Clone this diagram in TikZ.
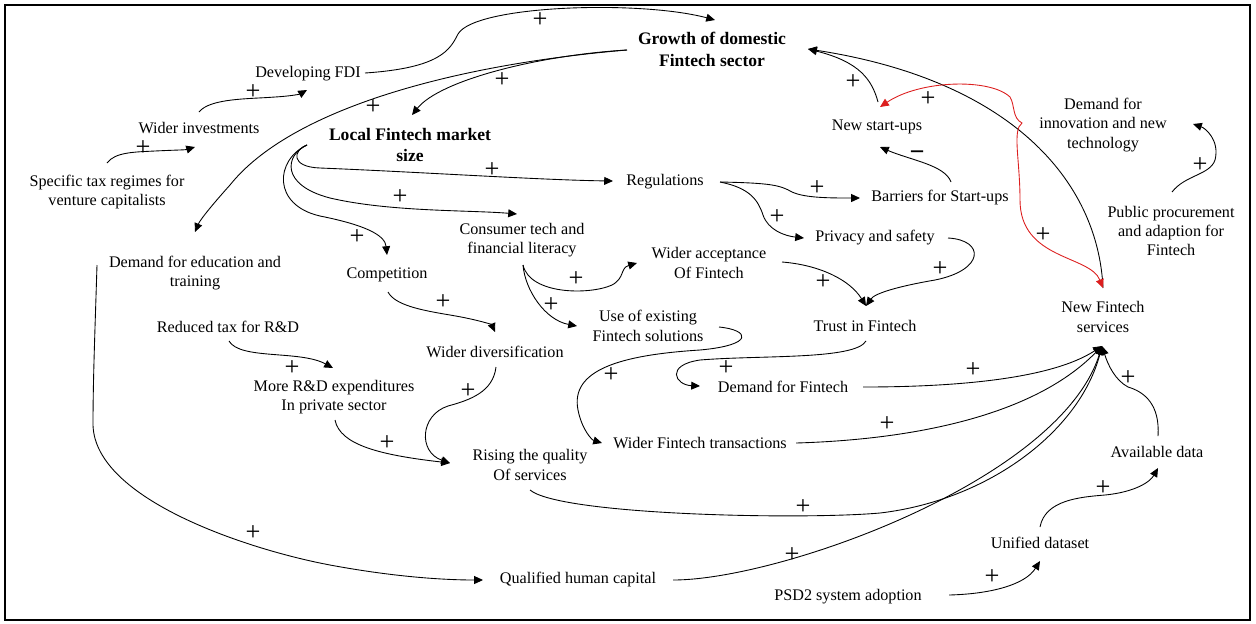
\documentclass[tikz,border=0pt]{standalone}
\usepackage{fontspec}
\setmainfont{Liberation Serif}
\usepackage{tikz}
\usetikzlibrary{positioning, calc, arrows.meta}
\definecolor{loopRed}{RGB}{220, 30, 30}

\begin{document}
\begin{tikzpicture}[
    x=0.02cm, y=-0.02cm,
    factor/.style={align=center, inner sep=1pt,
                   font=\fontsize{9.2}{11}\selectfont},
    keyfactor/.style={factor, font=\fontsize{10}{12.5}\selectfont\bfseries},
    link/.style={-{Triangle[length=5pt, width=4.5pt]}, line width=0.5pt},
    sign/.style={inner sep=0pt, font=\fontsize{15}{15}\selectfont},
  ]
    \useasboundingbox (0,0) rectangle (1256,623);
    \draw[line width=1.4pt] (5,5) rectangle (1250,620);

    % factors
    \node[keyfactor] (Growth) at (712,49) {Growth of domestic\\Fintech sector};
    \node[keyfactor] (Local) at (410,145) {Local Fintech market\\size};
    \node[factor] (FDI) at (308,74) {Developing FDI};
    \node[factor] (Invest) at (199,128) {Wider investments};
    \node[factor] (Tax) at (107,192) {Specific tax regimes for\\venture capitalists};
    \node[factor] (Edu) at (195,273) {Demand for education and\\training};
    \node[factor] (Comp) at (387,275) {Competition};
    \node[factor] (Lit) at (522,240) {Consumer tech and\\financial literacy};
    \node[factor] (Reg) at (665,182) {Regulations};
    \node[factor] (Barr) at (940,198) {Barriers for Start-ups};
    \node[factor] (Start) at (877,127) {New start-ups};
    \node[factor] (Priv) at (875,238) {Privacy and safety};
    \node[factor] (Accept) at (709,263) {Wider acceptance\\Of Fintech};
    \node[factor] (Innov) at (1103,125) {Demand for\\innovation and new\\technology};
    \node[factor] (Proc) at (1171,231) {Public procurement\\and adaption for\\Fintech};
    \node[factor] (NewFS) at (1103,317) {New Fintech\\services};
    \node[factor] (Trust) at (865,326) {Trust in Fintech};
    \node[factor] (UseFS) at (648,326) {Use of existing\\Fintech solutions};
    \node[factor] (Div) at (495,352) {Wider diversification};
    \node[factor] (DemFS) at (783,387) {Demand for Fintech};
    \node[factor] (RDTax) at (228,327) {Reduced tax for R\&D};
    \node[factor] (RD) at (334,397) {More R\&D expenditures\\In private sector};
    \node[factor] (Qual) at (530,465) {Rising the quality\\Of services};
    \node[factor] (Trans) at (700,443) {Wider Fintech transactions};
    \node[factor] (Data) at (1157,452) {Available data};
    \node[factor] (Uni) at (1040,543) {Unified dataset};
    \node[factor] (PSD) at (848,597) {PSD2 system adoption};
    \node[factor] (Human) at (578,580) {Qualified human capital};

    % upper left part
    \draw[link] ([shift={(57,-1)}]FDI.center) .. controls (440,68) and (450,50) .. (458,34)
      .. controls (475,5) and (640,0) .. ([shift={(3,-29)}]Growth.center)
      node[sign] (pFDI) at (540,20) {+};
    \draw[link] ([shift={(0,-16)}]Invest.center) .. controls (210,98) and (250,99) .. (275,97)
      .. controls (292,96) and (300,94) .. ([shift={(-1,16)}]FDI.center)
      node[sign] (pInvest) at (253,92) {+};
    \draw[link] ([shift={(0,-29)}]Tax.center) .. controls (115,152) and (135,152) .. (155,151)
      .. controls (175,150) and (185,150) .. ([shift={(-4,19)}]Invest.center)
      node[sign] (pTax) at (143,148) {+};
    \draw[link] ([shift={(-85,1)}]Growth.center) .. controls (540,55) and (440,80)
      .. ([shift={(2,-30)}]Local.center)
      node[sign] (pLocal) at (502,80) {+};
    \draw[link] ([shift={(-85,1)}]Growth.center) .. controls (450,65) and (290,110) .. (230,185)
      .. controls (212,205) and (200,220) .. ([shift={(0,-41)}]Edu.center)
      node[sign] (pEdu) at (373,107) {+};

    % from local market size
    \draw[link] ([shift={(-103,0)}]Local.center) .. controls (293,150) and (290,167) .. (320,168)
      .. controls (420,172) and (540,180) .. ([shift={(-52,-1)}]Reg.center)
      node[sign] (pReg) at (492,170) {+};
    \draw[link] ([shift={(-103,0)}]Local.center) .. controls (285,155) and (280,185) .. (330,198)
      .. controls (390,212) and (470,210) .. ([shift={(-5,-26)}]Lit.center)
      node[sign] (pLit) at (400,197) {+};
    \draw[link] ([shift={(-103,0)}]Local.center) .. controls (275,160) and (272,205) .. (320,216)
      .. controls (365,225) and (385,235) .. ([shift={(0,-20)}]Comp.center)
      node[sign] (pComp) at (357,237) {+};
    \draw[link] ([shift={(1,17)}]Comp.center) .. controls (395,305) and (420,310) .. (450,315)
      .. controls (480,320) and (492,325) .. ([shift={(0,-20)}]Div.center)
      node[sign] (pDiv) at (443,302) {+};
    \draw[link] ([shift={(1,15)}]Div.center) .. controls (493,392) and (470,400) .. (448,406)
      .. controls (420,415) and (418,452) .. ([shift={(-80,-2)}]Qual.center)
      node[sign] (pQual1) at (468,391) {+};
    \draw[link] ([shift={(1,23)}]RD.center) .. controls (340,445) and (380,455)
      .. ([shift={(-80,-2)}]Qual.center)
      node[sign] (pQual2) at (387,443) {+};
    \draw[link] ([shift={(1,14)}]RDTax.center) .. controls (240,360) and (300,350)
      .. ([shift={(-1,-29)}]RD.center)
      node[sign] (pRD) at (292,368) {+};

    % consumer side
    \draw[link] ([shift={(1,25)}]Lit.center) .. controls (530,295) and (590,295) .. (612,285)
      .. controls (625,278) and (620,268) .. ([shift={(-72,0)}]Accept.center)
      node[sign] (pAccept) at (576,279) {+};
    \draw[link] ([shift={(1,25)}]Lit.center) .. controls (525,290) and (545,320)
      .. ([shift={(-71,0)}]UseFS.center)
      node[sign] (pUseFS) at (551,305) {+};
    \draw[link] ([shift={(71,1)}]UseFS.center) .. controls (750,330) and (755,345) .. (700,350)
      .. controls (620,355) and (570,370) .. (578,410)
      .. controls (582,430) and (592,440) .. ([shift={(-98,0)}]Trans.center)
      node[sign] (pTrans) at (611,375) {+};
    \draw[link] ([shift={(55,0)}]Reg.center) .. controls (770,183) and (780,185) .. (792,192)
      .. controls (805,198) and (830,198) .. ([shift={(-80,0)}]Barr.center)
      node[sign] (pBarr) at (817,188) {+};
    \draw[link] ([shift={(55,0)}]Reg.center) .. controls (750,188) and (758,200) .. (763,215)
      .. controls (768,230) and (785,236) .. ([shift={(-71,0)}]Priv.center)
      node[sign] (pPriv) at (777,217) {+};
    \draw[link] ([shift={(11,-16)}]Barr.center) .. controls (945,165) and (910,160)
      .. ([shift={(3,20)}]Start.center)
      node[sign, font=\fontsize{15}{15}\selectfont\bfseries] (mStart) at (917,156) {−};
    \draw[link] ([shift={(73,0)}]Priv.center) .. controls (985,240) and (985,270) .. (935,280)
      .. controls (900,286) and (875,293) .. ([shift={(1,-20)}]Trust.center)
      node[sign] (pTrust1) at (940,269) {+};
    \draw[link] ([shift={(73,-1)}]Accept.center) .. controls (820,265) and (850,280)
      .. ([shift={(1,-20)}]Trust.center)
      node[sign] (pTrust2) at (823,282) {+};
    \draw[link] ([shift={(1,15)}]Trust.center) .. controls (855,360) and (760,355) .. (700,360)
      .. controls (665,365) and (675,385) .. ([shift={(-83,-1)}]DemFS.center)
      node[sign] (pDemFS) at (726,368) {+};

    % into new fintech services
    \draw[link] ([shift={(80,0)}]DemFS.center) .. controls (950,387) and (1050,380)
      .. ([shift={(-1,29)}]NewFS.center)
      node[sign] (pNew1) at (973,370) {+};
    \draw[link] ([shift={(96,0)}]Trans.center) .. controls (900,440) and (1030,420)
      .. ([shift={(-1,29)}]NewFS.center)
      node[sign] (pNew2) at (887,424) {+};
    \draw[link] ([shift={(0,25)}]Qual.center) .. controls (560,515) and (800,520) .. (880,513)
      .. controls (990,500) and (1080,430) .. ([shift={(-1,29)}]NewFS.center)
      node[sign] (pNew3) at (803,507) {+};
    \draw[link] ([shift={(95,0)}]Human.center) .. controls (780,580) and (1060,480)
      .. ([shift={(-1,29)}]NewFS.center)
      node[sign] (pNew4) at (792,555) {+};
    \draw[link] ([shift={(1,-16)}]Data.center) .. controls (1160,405) and (1145,392) .. (1128,387)
      .. controls (1115,380) and (1108,365) .. ([shift={(-1,29)}]NewFS.center)
      node[sign] (pNew5) at (1128,378) {+};
    \draw[link] ([shift={(0,-16)}]Uni.center) .. controls (1045,500) and (1080,497) .. (1105,495)
      .. controls (1135,492) and (1150,482) .. ([shift={(1,16)}]Data.center)
      node[sign] (pData) at (1103,488) {+};
    \draw[link] ([shift={(101,-2)}]PSD.center) .. controls (990,594) and (1025,585)
      .. ([shift={(0,18)}]Uni.center)
      node[sign] (pUni) at (992,577) {+};
    \draw[link] ([shift={(-98,-8)}]Edu.center) .. controls (95,330) and (93,380) .. (93,425)
      .. controls (95,500) and (250,550) .. (330,565)
      .. controls (400,578) and (450,580) .. ([shift={(-95,0)}]Human.center)
      node[sign] (pHuman) at (253,533) {+};
    \draw[link] ([shift={(1,-39)}]Proc.center) .. controls (1185,175) and (1210,175) .. (1215,160)
      .. controls (1220,140) and (1205,128) .. ([shift={(90,-1)}]Innov.center)
      node[sign] (pInnov) at (1200,165) {+};

    % back to growth
    \draw[link] ([shift={(1,-25)}]Start.center) .. controls (872,80) and (860,62)
      .. ([shift={(96,0)}]Growth.center)
      node[sign] (pGrowth) at (853,82) {+};
    \draw[link] ([shift={(0,-29)}]NewFS.center) .. controls (1098,180) and (1010,80)
      .. ([shift={(96,0)}]Growth.center);
    \draw[link, {Triangle[length=5pt, width=4.5pt]}-{Triangle[length=5pt, width=4.5pt]}, loopRed]
      ([shift={(3,-20)}]Start.center) .. controls (920,80) and (990,78) .. (1010,97)
      .. controls (1015,105) and (1012,118) .. (1022,123)
      .. controls (1012,130) and (1020,160) .. (1020,200)
      .. controls (1020,260) and (1090,255) .. ([shift={(0,-29)}]NewFS.center);
    \node[sign] (pRed1) at (928,99) {+};
    \node[sign] (pRed2) at (1043,235) {+};
\end{tikzpicture}
\end{document}
